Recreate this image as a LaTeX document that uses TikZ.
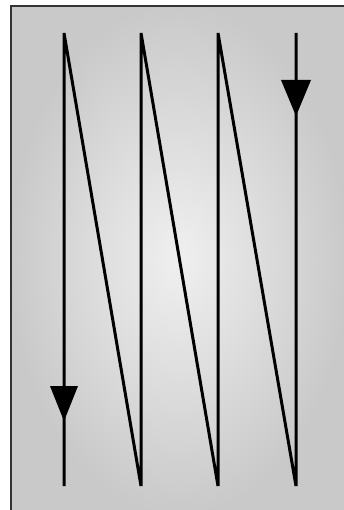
\documentclass[tikz,border=0pt]{standalone}
\begin{document}
\begin{tikzpicture}[x=1pt,y=-1pt,
  zig/.style={line width=3pt,black,line join=miter},
  arrowhead/.style={fill=black}]
\useasboundingbox (0,0) rectangle (344,510);
\fill[white] (0,0) rectangle (344,510);
\shade[inner color=gray!12,outer color=gray!42] (11,6) rectangle (346,512);
\draw[line width=2pt,black!80] (11,512) -- (11,6) -- (346,6);
\coordinate (a1) at (296,33);
\coordinate (b1) at (296,486);
\coordinate (a2) at (218,33);
\coordinate (b2) at (218,486);
\coordinate (a3) at (141,33);
\coordinate (b3) at (141,486);
\coordinate (a4) at (64,33);
\coordinate (b4) at (64,486);
\draw[zig] (a1) -- (b1) -- (a2) -- (b2) -- (a3) -- (b3) -- (a4) -- (b4);
\fill[arrowhead] (281,80) -- (311,80) -- (296,116) -- cycle;
\fill[arrowhead] (50,386) -- (78,386) -- (64,421) -- cycle;
\end{tikzpicture}
\end{document}
